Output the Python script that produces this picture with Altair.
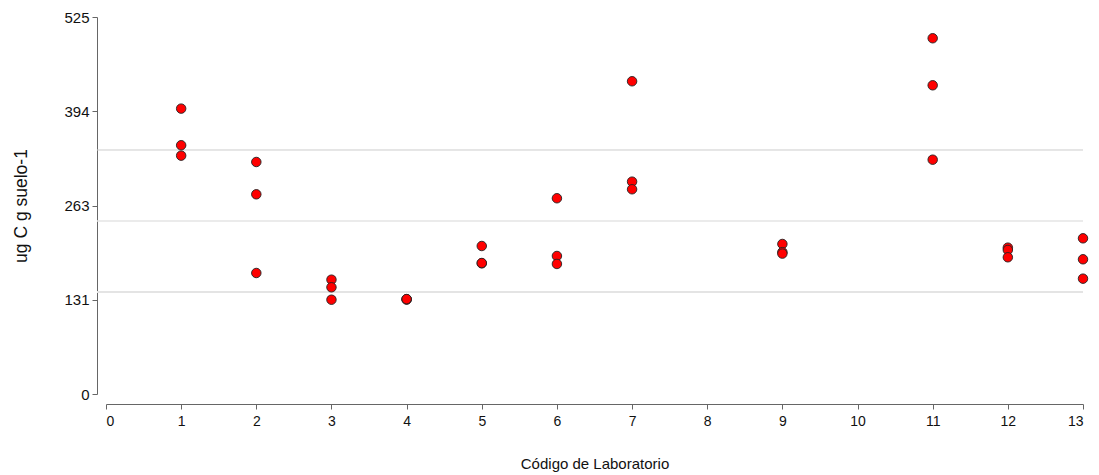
import altair as alt
import pandas as pd

labs = [1, 1, 1,
        2, 2, 2,
        3, 3, 3,
        4, 4, 4,
        5, 5, 5,
        6, 6, 6,
        7, 7, 7,
        9, 9, 9,
        11, 11, 11,
        12, 12, 12,
        13, 13, 13]
values = [397.4, 346.4, 331.9,
          323.1, 278.1, 168.5,
          159.2, 148.6, 131.3,
          131.9, 131.5, 132.2,
          206.1, 182.0, 182.4,
          272.6, 192.2, 181.1,
          435.5, 295.7, 285.1,
          208.9, 197.5, 195.5,
          495.4, 429.9, 326.3,
          203.8, 200.6, 190.4,
          216.8, 187.6, 160.6]

# Horizontal reference lines (mean and +/- 1 s.d.)
ref_values = [339.8, 241.0, 142.1]
ref_kind = ["upper", "mean", "lower"]

x_ticks = list(range(0, 14))
y_ticks = [0, 131.25, 262.5, 393.75, 525]

df = pd.DataFrame({"lab": labs, "value": values})
ref = pd.DataFrame({"value": ref_values, "kind": ref_kind})

W, H = 977, 377
FONT = "Liberation Sans"

x_scale = alt.Scale(domain=[0, 13], nice=False, zero=False)
y_scale = alt.Scale(domain=[0, 525], nice=False)

rules = alt.Chart(ref).mark_rule().encode(
    y=alt.Y("value:Q", scale=y_scale),
    x=alt.value(-9),
    x2=alt.value(W),
    color=alt.Color("kind:N", scale=alt.Scale(domain=["upper", "mean", "lower"],
                                              range=["#cccccc", "#e4e4e4", "#e4e4e4"]), legend=None),
    strokeWidth=alt.StrokeWidth("kind:N", scale=alt.Scale(domain=["upper", "mean", "lower"],
                                                          range=[1, 2, 2]), legend=None),
)

points = alt.Chart(df).mark_circle(size=90, color="#ff0000", opacity=1,
                                   stroke="#222222", strokeWidth=0.9).encode(
    x=alt.X("lab:Q", scale=x_scale,
            axis=alt.Axis(values=x_ticks, format="d", title="Código de Laboratorio",
                          offset=10, grid=False, tickSize=5, labelPadding=5,
                          titlePadding=28, domainColor="#666666", tickColor="#666666",
                          labelColor="#111111", titleColor="#111111",
                          labelFontSize=14, titleFontSize=15,
                          labelFont=FONT, titleFont=FONT, titleFontWeight="normal")),
    y=alt.Y("value:Q", scale=y_scale,
            axis=alt.Axis(values=y_ticks, format="d", title="ug C g suelo-1",
                          offset=9, grid=False, tickSize=5, labelPadding=3,
                          titlePadding=33, domainColor="#666666", tickColor="#666666",
                          labelColor="#111111", titleColor="#111111",
                          labelFontSize=15, titleFontSize=17.5,
                          labelFont=FONT, titleFont=FONT, titleFontWeight="normal")),
)

chart = alt.layer(rules, points).properties(
    width=W, height=H,
    background="white",
    autosize=alt.AutoSizeParams(type="none"),
    padding={"left": 106, "top": 17, "right": 16, "bottom": 81},
).configure_view(strokeWidth=0, stroke=None)

chart.save("out.html", embed_options={"renderer": "svg", "actions": False})
